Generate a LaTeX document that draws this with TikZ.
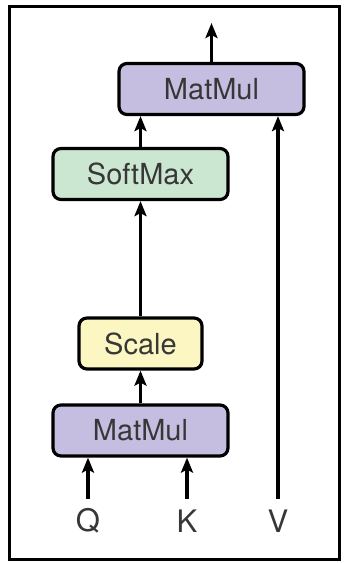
\documentclass[tikz,border=0pt]{standalone}
\usepackage{fontspec}
\setmainfont{TeX Gyre Heros}
\usepackage{xcolor}
\usetikzlibrary{arrows.meta,positioning}

\definecolor{matmulc}{RGB}{198,190,224}
\definecolor{softmaxc}{RGB}{203,231,209}
\definecolor{scalec}{RGB}{251,246,194}
\definecolor{textc}{RGB}{55,55,55}

\begin{document}
\begin{tikzpicture}[x=1pt,y=-1pt,
    opbox/.style={draw=black, line width=3.2pt, rounded corners=8pt,
        minimum height=51pt, inner sep=0pt, text=textc,
        font=\fontsize{29}{32}\selectfont},
    inlabel/.style={text=textc, font=\fontsize{31}{34}\selectfont, inner sep=0pt},
    flow/.style={line width=3.5pt, -{Stealth[length=15pt,width=12pt,inset=3pt]}}]
    \useasboundingbox (0,0) rectangle (344,563);
    % outer frame
    \draw[line width=3pt] (9.5,6.5) rectangle (339.5,559.5);

    % blocks
    \node[opbox, fill=matmulc, minimum width=185pt] (mm2) at (211.5,89) {MatMul};
    \node[opbox, fill=softmaxc, minimum width=175pt] (sm) at (140.5,174) {SoftMax};
    \node[opbox, fill=scalec, minimum width=123pt] (sc) at (140.5,343.5) {Scale};
    \node[opbox, fill=matmulc, minimum width=175pt] (mm1) at (140.5,430.5) {MatMul};

    % inputs
    \node[inlabel] (q) at (88,521) {Q};
    \node[inlabel] (k) at (187,521) {K};
    \node[inlabel] (v) at (278,521) {V};
    \coordinate (qtop) at (88,499);
    \coordinate (ktop) at (187,499);
    \coordinate (vtop) at (278,499);
    \coordinate (out) at (211.5,23);

    % connectors
    \draw[flow] (qtop) -- (qtop |- mm1.south);
    \draw[flow] (ktop) -- (ktop |- mm1.south);
    \draw[flow] (mm1) -- (sc);
    \draw[flow] (sc) -- (sm);
    \draw[flow] (sm.north) -- (sm.north |- mm2.south);
    \draw[flow] (vtop) -- (vtop |- mm2.south);
    \draw[flow] (mm2) -- (out);
\end{tikzpicture}
\end{document}
